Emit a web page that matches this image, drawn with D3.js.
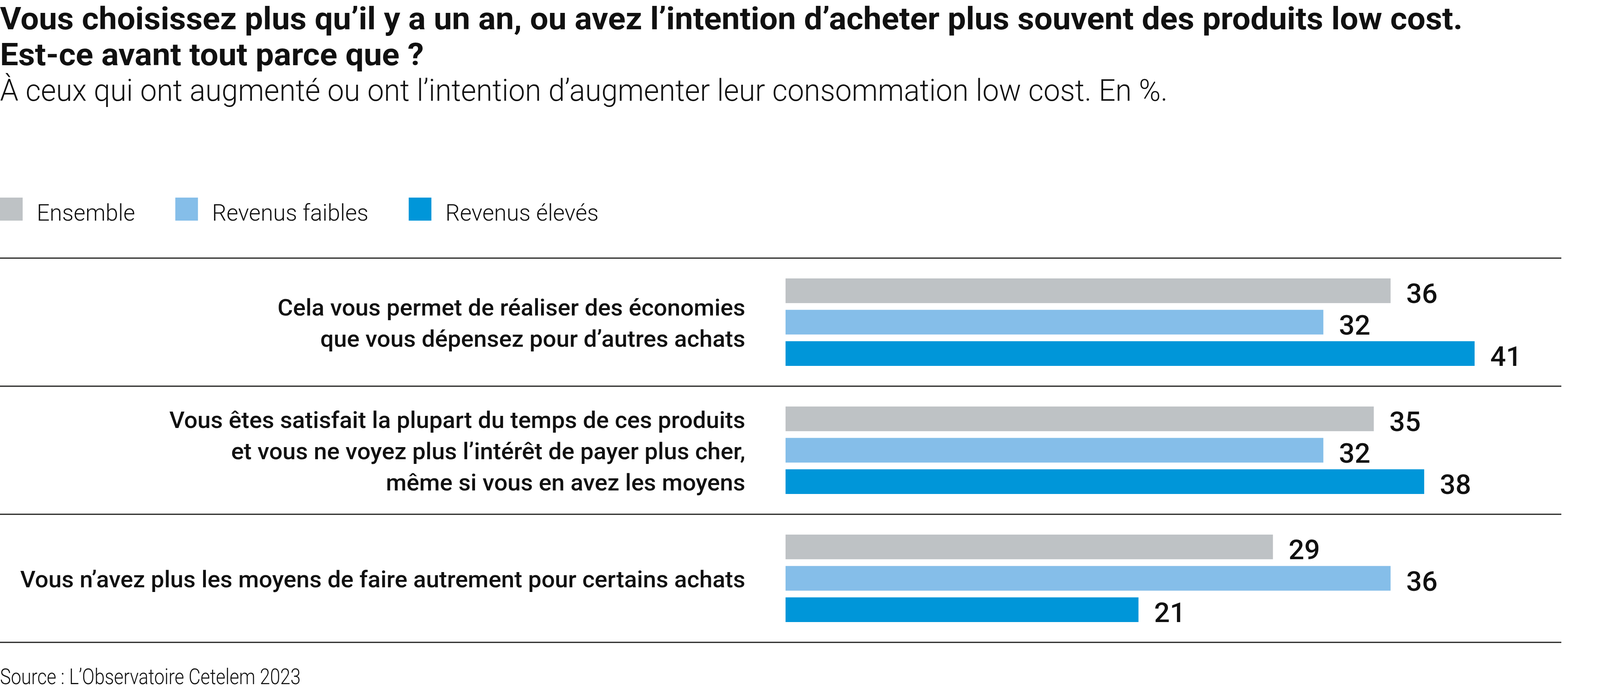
<!DOCTYPE html>
<html>
<head>
<meta charset="utf-8">
<script src="https://cdn.jsdelivr.net/npm/d3@7"></script>
<style>
  body { margin: 0; background: #fff; }
  text { font-family: Roboto, "Noto Sans", sans-serif; fill: #111; }
</style>
</head>
<body>
<script>
// data
var titleLines = [
    "Vous choisissez plus qu’il y a un an, ou avez l’intention d’acheter plus souvent des produits low cost.",
    "Est-ce avant tout parce que ?"
];
var subtitle = "À ceux qui ont augmenté ou ont l’intention d’augmenter leur consommation low cost. En %.";
var source = "Source : L’Observatoire Cetelem 2023";

var categories = [
    ["Cela vous permet de réaliser des économies", "que vous dépensez pour d’autres achats"],
    ["Vous êtes satisfait la plupart du temps de ces produits", "et vous ne voyez plus l’intérêt de payer plus cher,", "même si vous en avez les moyens"],
    ["Vous n’avez plus les moyens de faire autrement pour certains achats"]
];
var seriesNames = ["Ensemble", "Revenus faibles", "Revenus élevés"];
var ensemble = [36, 35, 29];
var revenusFaibles = [32, 32, 36];
var revenusEleves = [41, 38, 21];

var colors = ["#bec2c5", "#85bee9", "#0096d9"];

function init() {
    var w = 4250;
    var h = 1767;
    var svg = d3.select("body")
                .append("svg")
                .attr("width", w)
                .attr("height", h);

    // stretch/squeeze text a bit so Roboto takes the same room as the original font
    function fit(sel, f) {
        sel.each(function () {
            var len = this.getComputedTextLength();
            d3.select(this)
              .attr("textLength", len * f)
              .attr("lengthAdjust", "spacingAndGlyphs");
        });
    }

    // title + subtitle
    var title = svg.selectAll("text.title")
        .data(titleLines)
        .enter()
        .append("text")
        .attr("class", "title")
        .attr("x", 0)
        .attr("y", function (d, i) { return 75 + i * 92; })
        .style("font-size", "80px")
        .style("font-weight", 700)
        .text(function (d) { return d; });
    fit(title, 1.04);

    var sub = svg.append("text")
        .attr("x", 0)
        .attr("y", 258)
        .style("font-size", "77px")
        .style("font-weight", 300)
        .text(subtitle);
    fit(sub, 0.98);

    // legend
    var lx = 0;
    seriesNames.forEach(function (name, i) {
        svg.append("rect")
           .attr("x", lx)
           .attr("y", 506)
           .attr("width", 58)
           .attr("height", 59)
           .style("fill", colors[i]);
        var t = svg.append("text")
           .attr("x", lx + 94)
           .attr("y", 565)
           .style("font-size", "60px")
           .style("font-weight", 300)
           .text(name);
        fit(t, 0.97);
        lx = lx + 94 + +t.attr("textLength") + 103;
    });

    // scales
    var values = categories.map(function (c, i) {
        return [ensemble[i], revenusFaibles[i], revenusEleves[i]];
    });

    var yGroup = d3.scaleBand()
                   .domain(d3.range(categories.length))
                   .range([661, 1645]);
    var ySeries = d3.scaleBand()
                    .domain(d3.range(seriesNames.length))
                    .range([52, 276])
                    .paddingInner(0.2137);
    var xScale = d3.scaleLinear()
                   .domain([0, 41])
                   .range([2011, 3775]);

    // separator lines
    svg.selectAll("line.sep")
       .data(d3.range(categories.length + 1))
       .enter()
       .append("line")
       .attr("class", "sep")
       .attr("x1", 0)
       .attr("x2", 3997)
       .attr("y1", function (d) { return 661 + d * yGroup.step(); })
       .attr("y2", function (d) { return 661 + d * yGroup.step(); })
       .style("stroke", "#1d1d1b")
       .style("stroke-width", 3);

    var groups = svg.selectAll("g.grp")
        .data(values)
        .enter()
        .append("g")
        .attr("class", "grp")
        .attr("transform", function (d, i) { return "translate(0," + yGroup(i) + ")"; });

    groups.selectAll("rect")
        .data(function (d) { return d; })
        .enter()
        .append("rect")
        .attr("x", xScale(0))
        .attr("y", function (d, i) { return ySeries(i); })
        .attr("width", function (d) { return xScale(d) - xScale(0); })
        .attr("height", ySeries.bandwidth())
        .style("fill", function (d, i) { return colors[i]; });

    var vals = groups.selectAll("text.val")
        .data(function (d) { return d; })
        .enter()
        .append("text")
        .attr("class", "val")
        .attr("x", function (d) { return xScale(d) + 40; })
        .attr("y", function (d, i) { return ySeries(i) + ySeries.bandwidth(); })
        .style("font-size", "70px")
        .style("font-weight", 500)
        .text(function (d) { return d; });
    fit(vals, 1.01);

    // category labels, right aligned, centred on the group
    var mid = yGroup.bandwidth() / 2;
    var cats = groups.selectAll("text.cat")
        .data(function (d, i) { return categories[i].map(function (l) { return { line: l, n: categories[i].length }; }); })
        .enter()
        .append("text")
        .attr("class", "cat")
        .attr("x", 1908)
        .attr("y", function (d, j) { return mid - (d.n - 1) * 40 + j * 80 + 23; })
        .attr("text-anchor", "end")
        .style("font-size", "60px")
        .style("font-weight", 500)
        .text(function (d) { return d.line; });
    fit(cats, 1.01);

    var src = svg.append("text")
        .attr("x", 0)
        .attr("y", 1752)
        .style("font-size", "56px")
        .style("font-weight", 300)
        .text(source);
    fit(src, 0.84);
}
window.onload = init;
</script>
</body>
</html>
